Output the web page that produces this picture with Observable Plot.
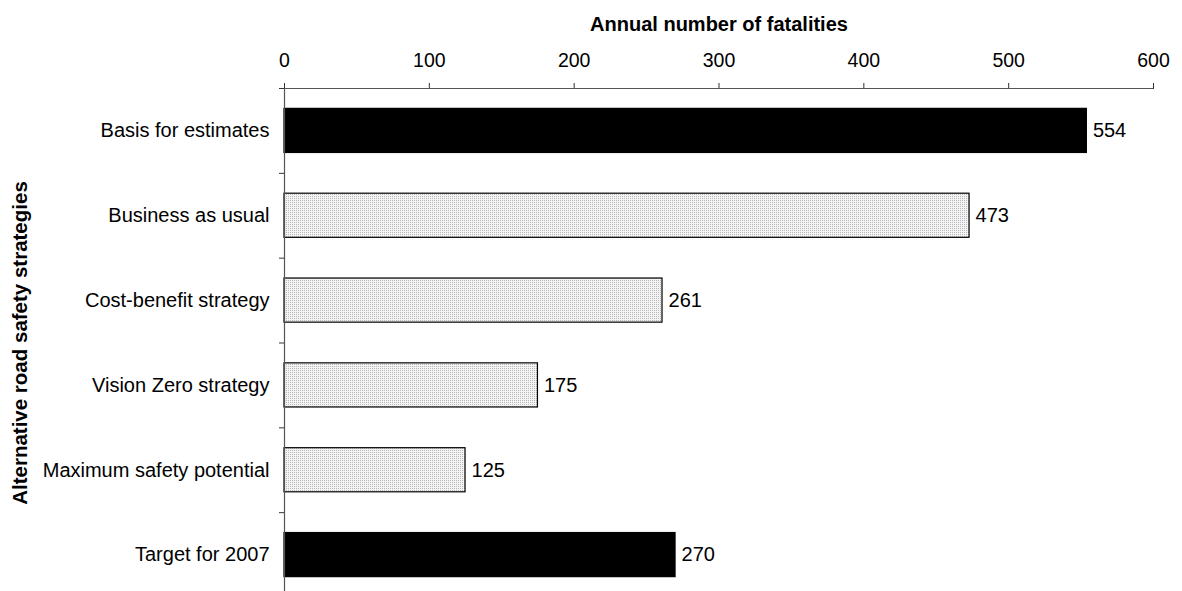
<!DOCTYPE html>
<html>
<head>
<meta charset="utf-8">
<script src="https://cdn.jsdelivr.net/npm/d3@7"></script>
<script src="https://cdn.jsdelivr.net/npm/@observablehq/plot@0.6"></script>
<style>
  html, body { margin: 0; padding: 0; background: #fff; overflow: hidden; }
  #chart svg { display: block; }
</style>
</head>
<body>
<div id="chart"></div>
<script>
const categories = [
  "Basis for estimates",
  "Business as usual",
  "Cost-benefit strategy",
  "Vision Zero strategy",
  "Maximum safety potential",
  "Target for 2007"
];
const fatalities = [554, 473, 261, 175, 125, 270];
const barStyle = ["solid", "pattern", "pattern", "pattern", "pattern", "solid"];
const xTicks = [0, 100, 200, 300, 400, 500, 600];
const xTitle = "Annual number of fatalities";
const yTitle = "Alternative road safety strategies";

const data = categories.map((c, i) => ({
  category: c, value: fatalities[i], style: barStyle[i], idx: i
}));
const boundaries = d3.range(categories.length + 1);

const font = "'Liberation Sans', Arial, sans-serif";
const fs = 20;

const chart = Plot.plot({
  width: 1182,
  height: 597,
  marginTop: 88,
  marginLeft: 284,
  marginRight: 29,
  marginBottom: 0,
  style: { fontFamily: font, fontSize: fs + "px", color: "#000", background: "#fff" },
  x: { domain: [0, 600], axis: null },
  y: { domain: [0, categories.length], reverse: true, axis: null },
  marks: [
    Plot.axisX({ anchor: "top", ticks: xTicks, tickSize: 6, tickPadding: 16, fontSize: 19.5, label: null, stroke: "#333" }),
    Plot.axisY({ anchor: "left", ticks: boundaries, tickSize: 5, tickFormat: () => "", label: null, stroke: "#333" }),
    Plot.rectX(data, {
      x1: 0, x2: "value",
      y1: d => d.idx + 0.24, y2: d => d.idx + 0.76,
      fill: d => d.style === "solid" ? "#000" : "url(#dots)",
      stroke: "#000", strokeWidth: 1.2
    }),
    Plot.ruleY([0], { stroke: "#555", strokeWidth: 1.2 }),
    Plot.ruleX([0], { stroke: "#555", strokeWidth: 1.2 }),
    Plot.text(data, {
      x: 0, y: d => d.idx + 0.5, text: "category",
      textAnchor: "end", dx: -15, fontSize: fs, fill: "#000"
    }),
    Plot.text(data, {
      x: "value", y: d => d.idx + 0.5, text: d => String(d.value),
      textAnchor: "start", dx: 6, fontSize: fs, fill: "#000"
    }),
    Plot.text([xTitle], {
      frameAnchor: "top", dy: -64, lineAnchor: "middle", text: d => d,
      fontWeight: "bold", fontSize: 20, fill: "#000"
    }),
    Plot.text([yTitle], {
      frameAnchor: "left", dx: -264, rotate: -90, textAnchor: "middle", text: d => d,
      fontWeight: "bold", fontSize: 20.5, fill: "#000"
    })
  ]
});

const svg = d3.select(chart);
const defs = svg.insert("defs", ":first-child");
const pat = defs.append("pattern")
  .attr("id", "dots")
  .attr("width", 2).attr("height", 2)
  .attr("patternUnits", "userSpaceOnUse");
pat.append("rect").attr("width", 2).attr("height", 2).attr("fill", "#f4f4f4");
pat.append("rect").attr("width", 1).attr("height", 1).attr("fill", "#b8b8b8");

document.getElementById("chart").appendChild(chart);
</script>
</body>
</html>
